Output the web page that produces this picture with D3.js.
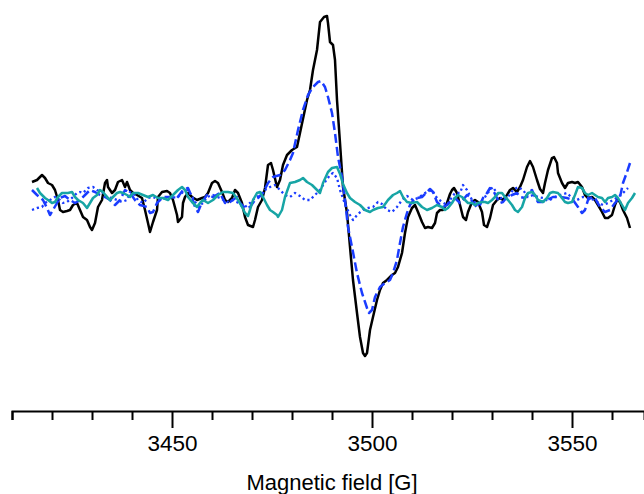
<!DOCTYPE html>
<html>
<head>
<meta charset="utf-8">
<script src="https://cdn.jsdelivr.net/npm/d3@7"></script>
<style>
  html, body { margin: 0; padding: 0; background: #fff; }
  svg { display: block; }
  text { font-family: "Liberation Sans", Arial, Helvetica, sans-serif; }
</style>
</head>
<body>
<svg id="chart" width="644" height="494"></svg>
<script>
// Magnetic field (G) and signal (a.u.) for each trace
const blackField = [3415,3416.25,3417.5,3418.25,3419,3420,3420.75,3421.5,3422,3422.75,3423.75,3424.5,3425.25,3426.25,3427,3427.75,3428.75,3429.5,3430,3430.75,3431.5,3432.5,3433.25,3433.75,3434,3435,3435.75,3436.5,3437.5,3438.25,3438.75,3439.5,3440.25,3441.25,3442.5,3443.25,3444,3444.5,3445.25,3446.25,3446.5,3447.5,3448.75,3449.5,3450.25,3451.25,3451.5,3452.5,3452.75,3453.25,3454,3455,3456.25,3457.5,3458.25,3459,3460,3460.75,3461.5,3462.5,3463.25,3464,3465,3465.75,3466.5,3467.5,3468.25,3469,3470.25,3470.75,3471.5,3472.5,3473.25,3474,3474.75,3475.25,3476.25,3477,3477.75,3478.75,3480,3481.25,3482,3483.75,3484.5,3485.25,3486.25,3487,3488,3488.75,3489,3489.5,3490.25,3490.75,3491.25,3492,3492.75,3493.25,3493.75,3494.5,3495.25,3496.25,3497,3497.75,3498.25,3498.75,3499.5,3500.25,3501.25,3502,3502.75,3503.75,3505,3505.75,3506.5,3507.5,3508.25,3509,3510,3510.75,3511.5,3512.5,3513.25,3514,3515,3515.75,3516.25,3517,3517.75,3518.75,3519.5,3520,3520.5,3521.25,3522,3522.75,3523.5,3524,3525,3525.75,3526.5,3527.5,3528,3528.75,3529.5,3530.25,3531.25,3532,3532.75,3533.75,3534.5,3535.25,3536.25,3537,3537.75,3538.75,3539.5,3540.25,3541.25,3542,3542.75,3543.25,3544,3545,3545.5,3546.25,3546.5,3547.5,3548.25,3549,3550,3550.75,3551.5,3552.5,3553.25,3554,3555,3555.75,3556.5,3557.5,3558.25,3559,3560,3560.75,3561.25,3562,3562.75,3563.75,3564.5];
const blackSignal = [0.18,0.20,0.25,0.22,0.17,0.15,0.10,0.00,-0.10,-0.12,-0.11,-0.10,-0.05,-0.03,-0.10,-0.17,-0.20,-0.27,-0.30,-0.23,-0.07,0.00,0.17,0.20,0.13,0.07,0.10,0.18,0.20,0.13,0.18,0.10,0.07,0.05,0.02,-0.10,-0.23,-0.32,-0.22,-0.10,0.03,0.08,0.09,0.07,0.00,-0.15,-0.22,-0.17,-0.03,0.03,0.07,0.03,0.00,0.02,0.03,0.07,0.17,0.19,0.17,0.08,0.00,-0.02,0.02,0.10,0.07,-0.03,-0.17,-0.25,-0.27,-0.20,-0.07,0.00,0.12,0.35,0.37,0.30,0.13,0.20,0.35,0.45,0.50,0.53,0.67,1.00,1.10,1.30,1.50,1.78,1.83,1.84,1.77,1.58,1.55,1.40,1.00,0.57,0.13,0.00,-0.13,-0.47,-0.80,-1.13,-1.37,-1.53,-1.56,-1.53,-1.30,-1.17,-1.00,-0.90,-0.83,-0.80,-0.75,-0.73,-0.67,-0.53,-0.33,-0.17,-0.08,-0.05,-0.12,-0.22,-0.28,-0.27,-0.28,-0.23,-0.13,-0.10,-0.10,-0.03,0.06,0.10,0.12,0.07,-0.05,-0.17,-0.20,-0.12,-0.02,0.00,-0.02,-0.12,-0.25,-0.27,-0.18,-0.05,0.00,0.02,0.00,0.05,0.10,0.12,0.08,0.13,0.20,0.33,0.39,0.33,0.20,0.11,0.07,0.17,0.30,0.42,0.43,0.37,0.27,0.17,0.12,0.17,0.18,0.17,0.18,0.13,0.05,0.02,0.03,0.00,-0.05,-0.12,-0.18,-0.18,-0.15,-0.05,0.00,-0.02,-0.10,-0.18,-0.28];

const dashedField = [3415,3416.25,3417.75,3418.75,3419.5,3420.25,3421.25,3422,3423.25,3424.5,3425.75,3427,3428.25,3429.5,3430.75,3432,3433.25,3434.5,3435.75,3437,3438.25,3439.5,3440.75,3442,3443.75,3444.5,3445.25,3446.25,3447.75,3449.5,3451.25,3452.75,3454,3455,3455.75,3456.5,3457.5,3458.75,3460.25,3462,3463.25,3464.5,3466.25,3467,3468.25,3469.5,3470.75,3471.5,3472.75,3474,3475.25,3477,3478.25,3479.5,3480.25,3481.5,3482.75,3484,3485.25,3486.5,3487.25,3488.25,3489,3490,3490.75,3491.5,3492.5,3493.25,3494,3495,3496.25,3497.5,3498.75,3499.25,3500,3500.75,3502,3503.25,3504.5,3505.25,3506.25,3507,3507.75,3508.75,3509.5,3510.25,3511.25,3512.5,3513.75,3514.5,3515.25,3516.25,3517,3517.75,3518.75,3520,3520.75,3522,3522.75,3523.75,3524.5,3525.25,3526.25,3527,3527.75,3528.75,3529.5,3530.25,3531.25,3532,3532.75,3533.75,3535,3536.25,3537,3538.25,3539,3540,3540.75,3541.5,3542.5,3543.75,3545.25,3547,3548.75,3550.25,3551.5,3552.5,3553.25,3554,3555,3555.75,3557,3558.25,3559.5,3560.75,3562,3562.75,3563.75,3564.75];
const dashedSignal = [0.10,0.05,0.00,-0.08,-0.15,-0.10,-0.03,0.02,0.04,0.00,-0.03,0.00,0.05,0.10,0.08,0.05,0.03,0.00,-0.05,0.00,0.10,0.07,0.00,-0.05,-0.07,-0.13,-0.12,-0.03,0.03,0.03,0.02,0.10,0.12,0.03,-0.07,-0.12,-0.02,0.05,0.03,0.07,-0.03,-0.02,0.03,-0.03,-0.08,-0.07,0.00,0.02,0.07,0.17,0.23,0.25,0.30,0.40,0.47,0.70,0.90,1.05,1.13,1.18,1.19,1.13,1.03,0.87,0.67,0.43,0.23,0.00,-0.27,-0.47,-0.73,-0.93,-1.08,-1.13,-1.10,-0.97,-0.87,-0.83,-0.80,-0.73,-0.60,-0.43,-0.27,-0.13,-0.05,-0.01,0.02,0.03,0.08,0.11,0.08,-0.02,-0.05,-0.07,-0.05,0.00,0.02,-0.03,0.00,0.05,0.03,-0.03,-0.07,-0.05,0.02,0.07,0.12,0.10,0.02,-0.03,-0.02,0.03,0.05,0.07,0.03,0.02,0.07,0.10,0.03,-0.02,-0.02,0.00,0.03,0.03,0.02,0.00,-0.07,-0.13,-0.10,0.00,0.03,0.02,-0.07,-0.12,-0.10,-0.03,0.03,0.17,0.28,0.40];

const dottedField = [3415,3416.25,3417.5,3418.25,3419.5,3420.75,3422,3422.75,3423.75,3425,3426.25,3427,3427.75,3429,3430.25,3431.25,3432.5,3433.75,3435,3436.25,3437.5,3438.75,3439.5,3440.25,3441.5,3442.75,3444,3445.25,3447,3448.25,3450,3451.25,3452.75,3454,3455.25,3456.5,3457.75,3458.75,3460.25,3462,3463.75,3465,3466.25,3467,3468.25,3469.5,3470.75,3472,3473.25,3474.5,3475.75,3477,3478.25,3479.5,3480.75,3482,3483.25,3484.5,3485.75,3487,3488.25,3489.5,3490.25,3491.25,3492,3493.25,3494.5,3495.25,3496.5,3497.75,3499,3500.25,3501.5,3502.5,3503.75,3505,3506.25,3507.5,3508.75,3510.25,3511.5,3513.25,3515,3516.25,3517.5,3518.75,3519.5,3520.75,3522,3522.75,3523.75,3525,3526.5,3528.25,3529.5,3530.25,3531.5,3532.75,3534,3535.25,3536.5,3537.75,3539,3540.25,3541.5,3542.75,3544,3545.75,3547,3548.75,3550,3551.25,3552.75,3554.5,3556.25,3557.75,3559,3560.25,3561.5,3562.75,3564];
const dottedSignal = [-0.10,-0.08,-0.07,-0.03,0.00,0.03,0.00,-0.03,-0.02,0.02,0.07,0.08,0.07,0.12,0.13,0.10,0.08,0.03,0.02,0.00,-0.02,0.00,0.08,0.07,0.00,-0.03,0.02,0.03,0.00,0.02,0.03,0.02,0.08,0.10,0.02,-0.07,-0.03,0.03,0.05,0.02,-0.02,0.00,-0.02,-0.05,-0.07,-0.03,0.02,0.05,0.10,0.13,0.15,0.10,0.05,0.03,0.07,0.04,0.00,0.00,0.05,0.10,0.18,0.25,0.27,0.22,0.10,-0.04,-0.15,-0.20,-0.14,-0.10,-0.08,-0.07,-0.02,-0.04,-0.10,-0.12,-0.07,0.00,0.04,0.00,0.02,0.07,0.10,0.02,-0.02,-0.05,0.00,0.07,0.07,0.15,0.10,0.00,-0.05,0.03,0.10,0.13,0.05,0.00,0.03,0.10,0.13,0.10,0.03,0.05,0.03,0.02,-0.01,0.03,0.05,0.07,0.02,0.00,0.03,0.02,-0.02,-0.05,-0.03,0.00,0.03,0.07,0.12];

const tealField = [3416.25,3417,3418.25,3419,3420,3420.75,3421.5,3422.5,3423.25,3424,3425,3425.75,3426.5,3427.75,3428.75,3429.5,3430.25,3431.25,3432,3432.75,3433.75,3434.5,3435.25,3436.25,3437,3437.75,3438.75,3439.5,3440.25,3441.5,3442.75,3444,3445.25,3446.5,3447.75,3449,3450.25,3451.5,3452.5,3453.25,3454,3455,3456.25,3457,3457.75,3459,3460.25,3461.5,3462.75,3464,3465.25,3466.5,3467.5,3468.25,3469,3469.5,3470.25,3471.25,3472,3472.75,3473.75,3474.5,3475.25,3476.25,3476.5,3477.5,3478.25,3479.5,3480.75,3482,3482.75,3483.75,3485,3486.25,3487,3487.75,3489,3490,3491.25,3492,3492.75,3493.75,3494.5,3495.75,3497,3498.25,3499.5,3500.25,3501.5,3502.75,3504,3505.25,3506.25,3507,3507.75,3508.75,3510,3511.25,3512.5,3513.75,3515,3516.25,3517.5,3518.25,3519,3520,3520.75,3521.5,3522.5,3523.25,3524,3525,3525.75,3526.5,3527.5,3528.25,3529,3530,3530.75,3531.5,3532.5,3533.25,3534,3535,3535.75,3536.5,3537.5,3538.25,3539,3540,3540.75,3541.5,3542.75,3543.75,3544.5,3545.25,3546.5,3547.5,3548.25,3549,3550,3550.75,3551.5,3552.5,3553.25,3554,3555,3555.75,3556.5,3557.5,3558.25,3559,3560,3560.75,3561.5,3562.5,3563.25,3564,3565,3565.75];
const tealSignal = [0.12,0.07,0.02,0.00,-0.03,-0.02,0.03,0.07,0.07,0.07,0.08,0.03,0.00,-0.03,-0.08,-0.03,0.02,0.05,0.10,0.08,0.03,0.00,0.03,0.07,0.08,0.07,0.05,0.03,0.07,0.07,0.05,0.03,0.05,0.02,0.02,0.00,0.05,0.10,0.13,0.10,0.03,-0.02,-0.07,-0.03,0.00,-0.03,0.00,0.05,0.08,0.08,0.07,0.00,-0.07,-0.13,-0.16,-0.10,0.00,0.07,0.08,0.03,-0.05,-0.10,-0.12,-0.15,-0.17,-0.10,0.03,0.17,0.18,0.20,0.22,0.18,0.15,0.10,0.07,0.17,0.28,0.32,0.33,0.26,0.16,0.07,0.02,-0.02,-0.05,-0.10,-0.12,-0.10,-0.08,-0.07,0.00,0.05,0.07,0.09,0.03,-0.02,-0.03,-0.02,-0.07,-0.10,-0.08,-0.05,-0.07,-0.10,-0.08,-0.03,0.02,0.05,0.03,0.00,-0.03,-0.03,-0.05,-0.03,-0.02,-0.02,-0.03,0.00,0.03,0.07,0.07,0.03,0.00,-0.05,-0.10,-0.12,-0.07,0.02,0.07,0.08,0.05,0.00,-0.02,0.02,0.07,0.08,0.07,0.02,-0.02,-0.03,-0.02,0.05,0.13,0.12,0.07,0.05,0.07,0.05,0.03,0.02,-0.02,0.02,0.03,0.05,0.02,-0.05,-0.10,-0.03,0.02,0.07];

const minorTicks = d3.range(3410, 3561, 10);
const majorTicks = [3450, 3500, 3550];
const axisTitle = "Magnetic field [G]";

const svg = d3.select("#chart");
const x = d3.scaleLinear().domain([3410, 3568]).range([12, 644]);
const y = d3.scaleLinear().domain([-2, 2]).range([400, 0]);

const series = [
  { f: blackField,  v: blackSignal,  color: "#000000", dash: null,  w: 2.5 },
  { f: dashedField, v: dashedSignal, color: "#1a3cff", dash: "9,4", w: 2.5 },
  { f: dottedField, v: dottedSignal, color: "#1a3cff", dash: "2.2,3", w: 2.3 },
  { f: tealField,   v: tealSignal,   color: "#17a5a5", dash: null,  w: 2.5 }
];

const line = d3.line().x(d => x(d[0])).y(d => y(d[1]));

series.forEach(s => {
  const pts = s.f.map((f, i) => [f, s.v[i]]);
  svg.append("path")
    .datum(pts)
    .attr("fill", "none")
    .attr("stroke", s.color)
    .attr("stroke-width", s.w)
    .attr("stroke-linejoin", "round")
    .attr("stroke-dasharray", s.dash)
    .attr("d", line);
});

// Axis
const axisG = svg.append("g").attr("transform", "translate(0,411)");
const axis = d3.axisBottom(x)
  .tickValues(minorTicks)
  .tickSizeOuter(0)
  .tickSize(9)
  .tickFormat(d => majorTicks.includes(d) ? d3.format("d")(d) : "");
axisG.call(axis);
axisG.select(".domain").attr("stroke", "#000").attr("stroke-width", 2);
axisG.selectAll(".tick line")
  .attr("stroke", "#000")
  .attr("stroke-width", 2)
  .attr("y2", d => majorTicks.includes(d) ? 17 : 9);
axisG.selectAll(".tick text")
  .attr("y", 40)
  .attr("dy", null)
  .attr("fill", "#000")
  .style("font-size", "22.5px")
  .style("font-family", "'Liberation Sans', Arial, sans-serif");

svg.append("text")
  .attr("x", x(3490))
  .attr("y", 490)
  .attr("text-anchor", "middle")
  .style("font-size", "22px")
  .attr("fill", "#000")
  .text(axisTitle);
</script>
</body>
</html>
